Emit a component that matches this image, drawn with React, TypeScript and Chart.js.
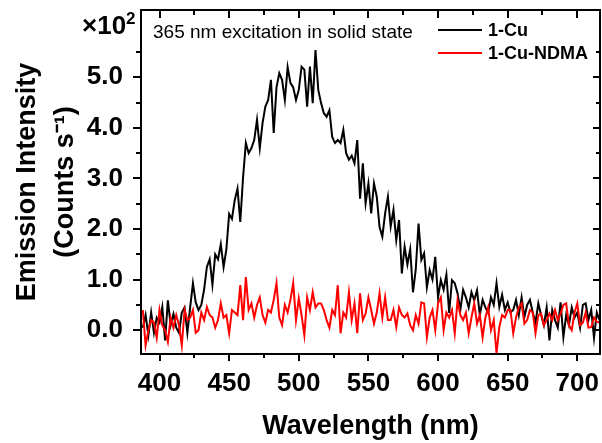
import React, { useEffect, useRef } from 'react';
import { Chart, registerables } from 'chart.js';

Chart.register(...registerables);

const FONT = '"Liberation Sans", Arial, Helvetica, sans-serif';

const wavelengths = [
  388, 390, 392, 394, 396, 398, 400, 402, 404, 406,
  408, 410, 412, 414, 416, 418, 420, 422, 424, 426,
  428, 430, 432, 434, 436, 438, 440, 442, 444, 446,
  448, 450, 452, 454, 456, 458, 460, 462, 464, 466,
  468, 470, 472, 474, 476, 478, 480, 482, 484, 486,
  488, 490, 492, 494, 496, 498, 500, 502, 504, 506,
  508, 510, 512, 514, 516, 518, 520, 522, 524, 526,
  528, 530, 532, 534, 536, 538, 540, 542, 544, 546,
  548, 550, 552, 554, 556, 558, 560, 562, 564, 566,
  568, 570, 572, 574, 576, 578, 580, 582, 584, 586,
  588, 590, 592, 594, 596, 598, 600, 602, 604, 606,
  608, 610, 612, 614, 616, 618, 620, 622, 624, 626,
  628, 630, 632, 634, 636, 638, 640, 642, 644, 646,
  648, 650, 652, 654, 656, 658, 660, 662, 664, 666,
  668, 670, 672, 674, 676, 678, 680, 682, 684, 686,
  688, 690, 692, 694, 696, 698, 700, 702, 704, 706,
  708, 710, 712, 714, 716,
];

// 1-Cu emission (x10^2 counts/s)
const cuValues = [
  0.05, 0.3, -0.1, 0.35, -0.05, 0.25, 0.15, 0.46, -0.2, 0.59,
  0.1, 0.32, 0.05, -0.05, 0.35, 0.45, -0.05, 0.45, 0.93, 0.55,
  0.4, 0.5, 0.8, 1.25, 1.4, 0.9, 1.5, 1.4, 1.7, 1.25,
  1.6, 2.3, 2.2, 2.57, 2.8, 2.14, 3.03, 3.7, 3.5, 3.6,
  3.76, 4.16, 3.6, 4.1, 4.42, 4.55, 4.95, 3.9, 4.8, 5.08,
  4.95, 4.55, 5.2, 4.89, 4.8, 4.55, 4.75, 5.21, 5.15, 4.42,
  5.21, 4.49, 5.54, 4.75, 4.49, 4.29, 4.22, 4.35, 3.82, 3.7,
  3.76, 3.7, 3.96, 3.5, 3.37, 3.45, 3.3, 3.76, 2.6, 3.3,
  2.51, 2.9, 2.31, 2.9, 2.64, 2.04, 1.85, 2.31, 2.64, 2.05,
  2.38, 1.78, 2.18, 1.12, 1.65, 1.3, 1.6, 0.75, 1.2, 2.11,
  1.39, 1.52, 0.85, 1.19, 1.0, 1.45, 0.65, 0.99, 0.8, 1.1,
  0.34, 0.99, 0.93, 0.73, 0.4, 0.8, 0.65, 0.45, 0.75, 0.59,
  0.79, 0.3, 0.6, 0.45, 0.34, 0.65, 0.5, 0.93, 0.46, 0.7,
  0.4, 0.55, 0.35, 0.4, 0.6, 0.3, 0.65, 0.26, 0.5, 0.6,
  0.35, 0.15, 0.53, 0.3, 0.1, 0.45, -0.2, 0.4, 0.2, 0.05,
  0.55, -0.14, 0.3, 0.1, 0.45, 0.25, 0.35, 0.05, 0.5, 0.53,
  0.2, 0.4, -0.15, 0.35, 0.2,
];

// 1-Cu-NDMA emission (x10^2 counts/s)
const ndmaValues = [
  0.4, -0.3, 0.0, 0.2, 0.15, -0.15, 0.4, 0.1, 0.0, -0.23,
  0.25, 0.05, 0.3, 0.1, -0.3, 0.4, 0.2, 0.25, 0.4, -0.05,
  0.0, 0.35, 0.2, 0.46, 0.3, 0.25, 0.05, 0.2, 0.53, 0.25,
  0.3, -0.06, 0.4, 0.35, 0.3, 0.89, 0.2, 1.05, 0.4, 0.53,
  0.25, 0.5, 0.65, 0.3, 0.15, 0.4, 0.35, 0.6, 0.93, 0.25,
  0.1, 0.5, 0.35, 0.6, 0.93, 0.2, 0.63, 0.3, -0.1, 0.65,
  0.4, 0.75, 0.45, 0.53, 0.53, 0.4, 0.2, 0.05, 0.4, 0.3,
  0.89, -0.06, 0.35, 0.25, 0.75, 0.2, 0.53, -0.06, 0.73, 0.2,
  0.33, 0.65, 0.4, 0.13, 0.35, 0.73, 0.25, 0.65, 0.2, 0.2,
  0.4, 0.06, 0.45, 0.3, 0.25, 0.33, 0.1, 0.0, 0.3, 0.13,
  0.55, 0.53, -0.14, 0.25, 0.4, 0.0, 0.53, 0.65, 0.0, 0.35,
  0.25, 0.4, -0.06, 0.59, 0.3, 0.2, 0.35, -0.06, 0.25, 0.53,
  0.13, 0.3, -0.14, 0.25, 0.45, 0.0, 0.2, -0.46, 0.06, 0.3,
  0.25, 0.4, 0.4, -0.06, 0.25, 0.45, 0.53, 0.13, 0.2, 0.4,
  0.35, -0.06, 0.3, 0.33, 0.1, 0.2, 0.33, 0.2, 0.4, 0.2,
  0.33, 0.5, 0.53, 0.1, 0.0, 0.35, 0.53, 0.1, 0.15, 0.35,
  0.05, 0.06, 0.25, 0.17, 0.15,
];

const xMajorTicks = [400, 450, 500, 550, 600, 650, 700];
const xMinorTicks = [425, 475, 525, 575, 625, 675];
const yMajorTicks = [0, 1, 2, 3, 4, 5];
const yMinorTicks = [0.5, 1.5, 2.5, 3.5, 4.5, 5.5];

const seriesNames = ['1-Cu', '1-Cu-NDMA'];
const seriesColors = ['#000000', '#ff0000'];

const X_MIN = 386.7;
const X_MAX = 716.3;
const Y_MIN = -0.47;
const Y_MAX = 6.33;

const framePlugin = {
  id: 'framePlugin',
  afterDraw(chart: any) {
    const ctx = chart.ctx;
    const xs = chart.scales.x;
    const ys = chart.scales.y;
    const left = Math.round(xs.left);
    const right = Math.round(xs.right);
    const top = Math.round(ys.top);
    const bottom = Math.round(ys.bottom);
    ctx.save();
    ctx.fillStyle = '#000';
    // frame (2px)
    ctx.fillRect(left - 1, top - 1, right - left + 2, 2);
    ctx.fillRect(left - 1, bottom - 1, right - left + 2, 2);
    ctx.fillRect(left - 1, top - 1, 2, bottom - top + 2);
    ctx.fillRect(right - 1, top - 1, 2, bottom - top + 2);
    // ticks
    xMajorTicks.forEach((v) => {
      const p = Math.round(xs.getPixelForValue(v));
      ctx.fillRect(p - 1, bottom, 2, 7);
      ctx.fillRect(p - 1, top, 2, 8);
    });
    xMinorTicks.forEach((v) => {
      const p = Math.round(xs.getPixelForValue(v));
      ctx.fillRect(p - 1, bottom, 2, 4);
      ctx.fillRect(p - 1, top, 2, 5);
    });
    yMajorTicks.forEach((v) => {
      const p = Math.round(ys.getPixelForValue(v));
      ctx.fillRect(left - 8, p - 1, 8, 2);
      ctx.fillRect(right - 7, p - 1, 7, 2);
    });
    yMinorTicks.forEach((v) => {
      const p = Math.round(ys.getPixelForValue(v));
      ctx.fillRect(left - 5, p - 1, 5, 2);
      ctx.fillRect(right - 4, p - 1, 4, 2);
    });

    // multiplier label
    ctx.textBaseline = 'alphabetic';
    ctx.textAlign = 'left';
    ctx.font = `bold 26px ${FONT}`;
    ctx.fillText('×10', 82, 34);
    const w = ctx.measureText('×10').width;
    ctx.font = `bold 17px ${FONT}`;
    ctx.fillText('2', 82 + w, 24);

    // annotation
    ctx.font = `19px ${FONT}`;
    ctx.fillText('365 nm excitation in solid state', 153, 38);

    // legend
    const legendY = [30, 53];
    seriesNames.forEach((name, i) => {
      ctx.fillStyle = seriesColors[i];
      ctx.fillRect(438, legendY[i] - 1, 44, 2);
      ctx.fillStyle = '#000';
      ctx.font = `bold 18px ${FONT}`;
      ctx.textBaseline = 'middle';
      ctx.fillText(name, 488, legendY[i] + 1);
    });
    ctx.restore();
  },
};

export default function App() {
  const canvasRef = useRef<HTMLCanvasElement | null>(null);

  useEffect(() => {
    document.body.style.margin = '0';
    const canvas = canvasRef.current;
    if (!canvas) return;
    const chart = new Chart(canvas, {
      type: 'line',
      data: {
        datasets: [
          {
            label: seriesNames[0],
            data: wavelengths.map((x, i) => ({ x, y: cuValues[i] })),
            borderColor: seriesColors[0],
            borderWidth: 2,
            pointRadius: 0,
            tension: 0,
            order: 1,
          },
          {
            label: seriesNames[1],
            data: wavelengths.map((x, i) => ({ x, y: ndmaValues[i] })),
            borderColor: seriesColors[1],
            borderWidth: 2,
            pointRadius: 0,
            tension: 0,
            order: 0,
          },
        ],
      },
      options: {
        animation: false,
        responsive: false,
        devicePixelRatio: 1,
        layout: { padding: { top: 10, right: 2, left: 0, bottom: 0 } },
        plugins: {
          legend: { display: false },
          tooltip: { enabled: false },
        },
        scales: {
          x: {
            type: 'linear',
            min: X_MIN,
            max: X_MAX,
            afterBuildTicks: (s: any) => {
              s.ticks = xMajorTicks.map((v) => ({ value: v }));
            },
            afterFit: (s: any) => {
              s.height = 89;
              s.paddingLeft = 0;
              s.paddingRight = 0;
            },
            grid: { display: false },
            border: { display: false },
            ticks: {
              color: '#000',
              font: { family: FONT, size: 26, weight: 'bold' },
              padding: 6,
              maxRotation: 0,
              autoSkip: false,
              callback: (v: any) => String(v),
            },
            title: {
              display: true,
              text: 'Wavelength (nm)',
              color: '#000',
              font: { family: FONT, size: 27, weight: 'bold', lineHeight: 1.2 },
              padding: { top: 0, bottom: 0 },
            },
          },
          y: {
            type: 'linear',
            min: Y_MIN,
            max: Y_MAX,
            afterBuildTicks: (s: any) => {
              s.ticks = yMajorTicks.map((v) => ({ value: v }));
            },
            afterFit: (s: any) => {
              s.width = 141;
              s.paddingTop = 0;
              s.paddingBottom = 0;
            },
            grid: { display: false },
            border: { display: false },
            ticks: {
              color: '#000',
              font: { family: FONT, size: 26, weight: 'bold' },
              padding: 10,
              autoSkip: false,
              callback: (v: any) => Number(v).toFixed(1),
            },
            title: {
              display: true,
              text: ['Emission Intensity', '(Counts s⁻¹)'],
              color: '#000',
              font: { family: FONT, size: 27, weight: 'bold', lineHeight: 1.4 },
              padding: { top: 9, bottom: 0 },
            },
          },
        },
      },
      plugins: [framePlugin],
    } as any);
    return () => chart.destroy();
  }, []);

  return (
    <div style={{ position: 'fixed', left: 0, top: 0, width: 602, height: 443, background: '#fff' }}>
      <canvas ref={canvasRef} width={602} height={443} style={{ width: 602, height: 443, display: 'block' }} />
    </div>
  );
}
